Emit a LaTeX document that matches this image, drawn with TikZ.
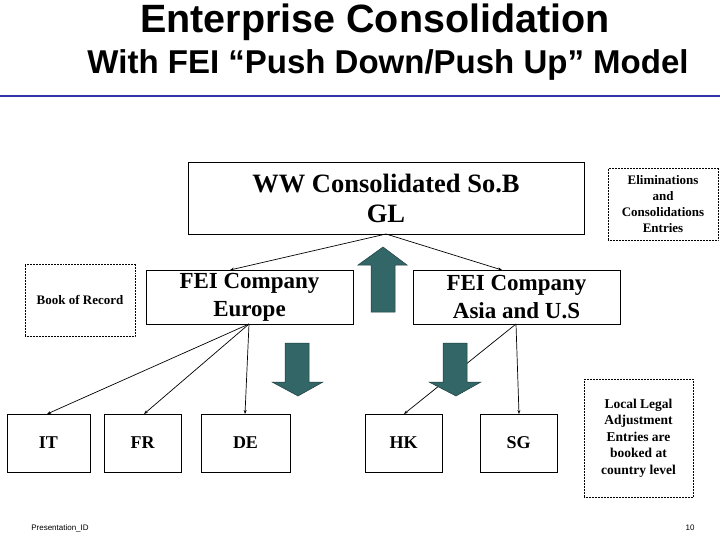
\documentclass[tikz,border=0pt]{standalone}
\usepackage{fontspec}
\setmainfont{Liberation Serif}
\newfontfamily\sansf{Liberation Sans}
\usetikzlibrary{arrows.meta}
\definecolor{teal1}{HTML}{336666}
\definecolor{rule}{HTML}{3333AA}
\begin{document}
\begin{tikzpicture}[x=1pt,y=-1pt,
  box/.style={draw,line width=0.8pt,align=center,inner sep=0pt},
  dbox/.style={draw,densely dotted,line width=0.5pt,font=\bfseries\fontsize{13}{16}\selectfont,align=center,inner sep=0pt},
  conn/.style={line width=0.7pt,-{Stealth[length=4pt,width=3pt]}},
  fat/.style={fill=teal1,draw=teal1!60!black,line width=0.5pt}]
\useasboundingbox (0,0) rectangle (720,540);
\node[font=\sansf\bfseries\fontsize{39.5}{40}\selectfont] (t1) at (375,22) {Enterprise Consolidation};
\node[font=\sansf\bfseries\fontsize{33}{34}\selectfont] (t2) at (388,65) {With FEI “Push Down/Push Up” Model};
\draw[rule,line width=1.5pt] (0,96) -- (720,96);
\node[box,minimum width=396pt,minimum height=72pt,font=\bfseries\fontsize{26.5}{30}\selectfont] (ww) at (386,198) {WW Consolidated So.B\\GL};
\node[dbox,minimum width=110pt,minimum height=72pt] (el) at (663,204) {Eliminations\\and\\Consolidations\\Entries};
\node[dbox,minimum width=110pt,minimum height=72pt] (br) at (80,300) {Book of Record};
\node[box,minimum width=207pt,minimum height=54pt,font=\bfseries\fontsize{23}{28}\selectfont] (eu) at (249.5,297) {FEI Company\\Europe};
\node[box,minimum width=207pt,minimum height=54pt,font=\bfseries\fontsize{23}{28}\selectfont] (as) at (516.5,297) {FEI Company\\Asia and U.S};
\foreach \n/\a/\b/\c in {it/7/90/IT,fr/104/181/FR,de/201/290/DE,hk/365/442/HK,sg/480/557/SG}{
  \node[box,minimum width=\b-\a,minimum height=58pt,font=\bfseries\fontsize{18}{20}\selectfont] (\n) at ({(\a+\b)/2},443) {\c};}
\node[dbox,minimum width=109pt,minimum height=118pt,font=\bfseries\fontsize{13.5}{16.5}\selectfont] (ll) at (638.5,438) {Local Legal\\Adjustment\\Entries are\\booked at\\country level};
\coordinate (apex) at (386,234);
\coordinate (eb) at (249,324);
\coordinate (ab) at (516,324);
\draw[conn] (apex) -- (230,270);
\draw[conn] (apex) -- (502,270);
\draw[conn] (eb) -- (47,414);
\draw[conn] (eb) -- (144,414);
\draw[conn] (eb) -- (245,414);
\draw[conn] (ab) -- (404,414);
\draw[conn] (ab) -- (519,414);
\draw[fat] (371,312) -- (371,265) -- (358,265) -- (383,247) -- (407,265) -- (395,265) -- (395,312) -- cycle;
\draw[fat] (285,343) -- (309,343) -- (309,382) -- (323,382) -- (298,396) -- (272,382) -- (285,382) -- cycle;
\draw[fat] (443,343) -- (467,343) -- (467,382) -- (481,382) -- (456,396) -- (429,382) -- (443,382) -- cycle;
\node[font=\sansf\fontsize{8}{10}\selectfont] (f1) at (60,528) {Presentation\_ID};
\node[font=\sansf\fontsize{8}{10}\selectfont] (f2) at (690,528) {10};
\end{tikzpicture}
\end{document}
